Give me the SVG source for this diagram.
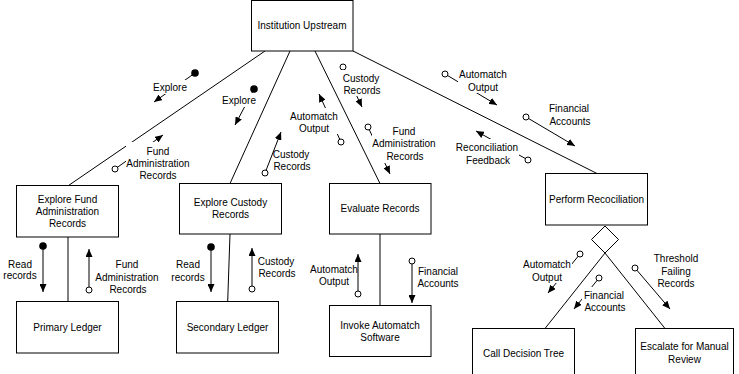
<svg xmlns="http://www.w3.org/2000/svg" width="739" height="374" viewBox="0 0 739 374">
<style>
.box{fill:#fff;stroke:#000;stroke-width:1}
.ln{stroke:#000;stroke-width:1;fill:none}
.fo{stroke:#000;stroke-width:1;fill:none;marker-start:url(#oc);marker-end:url(#ah)}
.ff{stroke:#000;stroke-width:1;fill:none;marker-start:url(#fc);marker-end:url(#ah)}
.bg{fill:#fff;stroke:none}
text{font-family:"Liberation Sans",Arial,sans-serif;font-size:10px;fill:#000;text-anchor:middle}
</style>
<defs>
<marker id="ah" viewBox="0 0 8 7" refX="8" refY="3.5" markerWidth="8" markerHeight="7" orient="auto" markerUnits="userSpaceOnUse"><path d="M0,0 L8,3.5 L0,7 z" fill="#000"/></marker>
<marker id="oc" viewBox="-5 -5 10 10" refX="0" refY="0" markerWidth="10" markerHeight="10" markerUnits="userSpaceOnUse"><circle r="3" fill="#fff" stroke="#000" stroke-width="1"/></marker>
<marker id="fc" viewBox="-5 -5 10 10" refX="0" refY="0" markerWidth="10" markerHeight="10" markerUnits="userSpaceOnUse"><circle r="3.8" fill="#000"/></marker>
</defs>
<g id="connectors">
<line class="ln" x1="265" y1="51" x2="68.5" y2="185.5"/>
<line class="ln" x1="290" y1="51" x2="230" y2="183.5"/>
<line class="ln" x1="315" y1="51" x2="380" y2="183.5"/>
<line class="ln" x1="353" y1="51" x2="597" y2="173.5"/>
<line class="ln" x1="68" y1="237" x2="68" y2="301.5"/>
<line class="ln" x1="230" y1="234" x2="227.7" y2="301.5"/>
<line class="ln" x1="380" y1="234" x2="380" y2="305.5"/>
<line class="ln" x1="605" y1="253" x2="545" y2="328.5"/>
<line class="ln" x1="605" y1="253" x2="665" y2="328.5"/>
<polygon class="box" points="605,226 618.5,239.5 605,253 591.5,239.5"/>
<line class="ff" x1="195" y1="73" x2="154" y2="102"/>
<line class="ff" x1="254" y1="89" x2="235" y2="125"/>
<line class="fo" x1="115" y1="169" x2="163" y2="135"/>
<line class="fo" x1="265" y1="173" x2="281" y2="132"/>
<line class="fo" x1="341" y1="142" x2="319" y2="94"/>
<line class="fo" x1="343" y1="67" x2="362" y2="107"/>
<line class="fo" x1="368" y1="127" x2="390" y2="174"/>
<line class="fo" x1="445" y1="74" x2="497" y2="105"/>
<line class="fo" x1="526" y1="117" x2="575" y2="146"/>
<line class="fo" x1="528" y1="160" x2="476" y2="131"/>
<line class="ff" x1="43" y1="246" x2="43" y2="292"/>
<line class="fo" x1="89" y1="290" x2="89" y2="249"/>
<line class="ff" x1="211" y1="247" x2="211" y2="292"/>
<line class="fo" x1="252" y1="289" x2="252" y2="248"/>
<line class="fo" x1="358" y1="294" x2="358" y2="254"/>
<line class="fo" x1="412" y1="261" x2="412" y2="303"/>
<line class="fo" x1="580" y1="254" x2="548" y2="293"/>
<line class="fo" x1="599" y1="278" x2="574" y2="309"/>
<line class="fo" x1="635" y1="268" x2="670" y2="309"/>
<rect class="bg" x="152" y="80" width="36" height="14"/>
<rect class="bg" x="221" y="93" width="36" height="14"/>
<rect class="bg" x="126" y="142" width="64" height="40"/>
<rect class="bg" x="289" y="108" width="50" height="26"/>
<rect class="bg" x="342" y="70" width="39" height="26"/>
<rect class="bg" x="372" y="123" width="65" height="40"/>
<rect class="bg" x="458" y="66" width="50" height="27"/>
<rect class="bg" x="455" y="139" width="64" height="27"/>
<rect class="bg" x="522" y="256" width="50" height="27"/>
<rect class="bg" x="582" y="287" width="44" height="26"/>
<text x="170" y="90.5">Explore</text>
<text x="239" y="103.5">Explore</text>
<text x="158" y="154.5">Fund</text>
<text x="158" y="166.5">Administration</text>
<text x="158" y="178.5">Records</text>
<text x="291" y="157.5">Custody</text>
<text x="292" y="169.5">Records</text>
<text x="314" y="119.5">Automatch</text>
<text x="314" y="131.5">Output</text>
<text x="361" y="81.5">Custody</text>
<text x="362" y="93.5">Records</text>
<text x="404" y="134.5">Fund</text>
<text x="404" y="147">Administration</text>
<text x="405" y="159.5">Records</text>
<text x="483" y="77.5">Automatch</text>
<text x="483" y="90.5">Output</text>
<text x="569" y="111.5">Financial</text>
<text x="570" y="124.5">Accounts</text>
<text x="487" y="150.5">Reconciliation</text>
<text x="488" y="163.5">Feedback</text>
<text x="20" y="267.5">Read</text>
<text x="20" y="279">records</text>
<text x="127" y="267.5">Fund</text>
<text x="127" y="280.5">Administration</text>
<text x="128" y="292.5">Records</text>
<text x="188" y="267.5">Read</text>
<text x="188" y="280.5">records</text>
<text x="276" y="264.5">Custody</text>
<text x="277" y="276.5">Records</text>
<text x="334" y="272.5">Automatch</text>
<text x="334" y="284.5">Output</text>
<text x="438" y="274.5">Financial</text>
<text x="438" y="286.5">Accounts</text>
<text x="547" y="267.5">Automatch</text>
<text x="547" y="280.5">Output</text>
<text x="604" y="298.5">Financial</text>
<text x="605" y="310.5">Accounts</text>
<text x="676" y="261.5">Threshold</text>
<text x="676" y="274.5">Failing</text>
<text x="676" y="286.5">Records</text>
</g>
<g id="n-institution"><rect class="box" x="251.5" y="0.5" width="101.5" height="50.5"/><text x="302" y="28.5">Institution Upstream</text></g>
<g id="n-explore-fund"><rect class="box" x="16.5" y="185.5" width="102" height="51.5"/><text x="67.5" y="202.5">Explore Fund</text><text x="67.5" y="214.5">Administration</text><text x="67.5" y="226.5">Records</text></g>
<g id="n-primary"><rect class="box" x="16.5" y="301.5" width="102" height="51.5"/><text x="67.5" y="330.5">Primary Ledger</text></g>
<g id="n-explore-custody"><rect class="box" x="179.5" y="183.5" width="102" height="50.5"/><text x="230.5" y="205.5">Explore Custody</text><text x="230.5" y="217.5">Records</text></g>
<g id="n-secondary"><rect class="box" x="176.5" y="301.5" width="102" height="51.5"/><text x="227.5" y="330.5">Secondary Ledger</text></g>
<g id="n-evaluate"><rect class="box" x="329.5" y="183.5" width="101.5" height="50.5"/><text x="380" y="211.5">Evaluate Records</text></g>
<g id="n-invoke"><rect class="box" x="329.5" y="305.5" width="101.5" height="51"/><text x="380" y="328.5">Invoke Automatch</text><text x="380" y="340.5">Software</text></g>
<g id="n-perform"><rect class="box" x="545.5" y="173.5" width="102" height="51.5"/><text x="596.5" y="202.5">Perform Recociliation</text></g>
<g id="n-call"><rect class="box" x="472.5" y="328.5" width="102" height="51"/><text x="523.5" y="356.8">Call Decision Tree</text></g>
<g id="n-escalate"><rect class="box" x="635.5" y="328.5" width="98" height="51"/><text x="684.5" y="350">Escalate for Manual</text><text x="684.5" y="362.5">Review</text></g>
</svg>
